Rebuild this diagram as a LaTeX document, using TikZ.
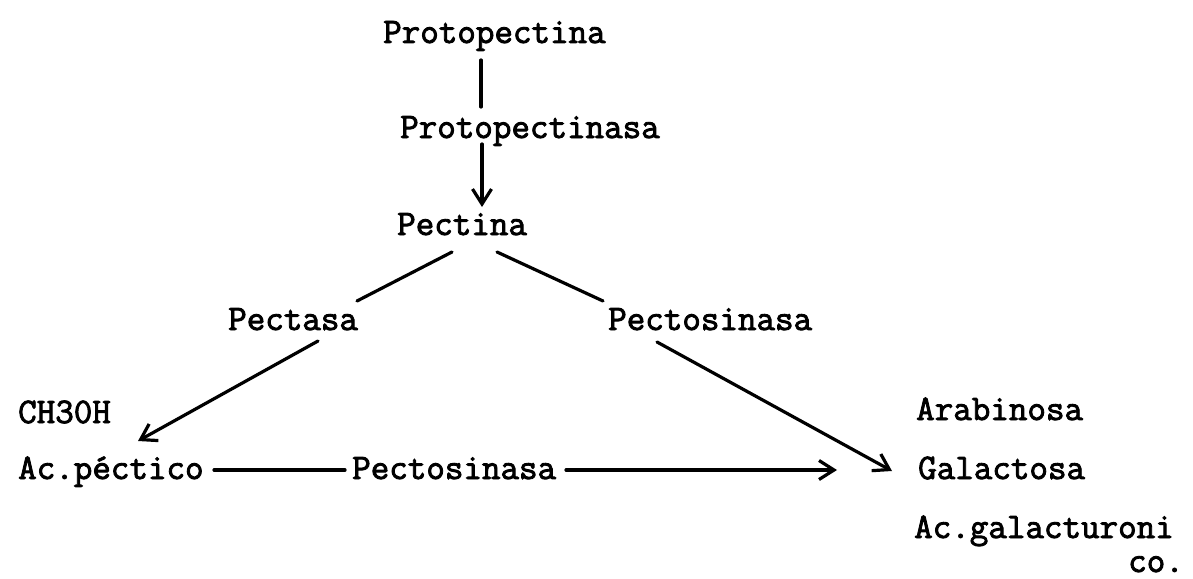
\documentclass[tikz,border=0pt]{standalone}
\usepackage{fontspec}
\setmonofont{Latin Modern Mono}[AutoFakeBold=2.4]
\usetikzlibrary{arrows.meta}
\begin{document}
\begin{tikzpicture}[x=1pt,y=-1pt,
  lbl/.style={inner sep=0pt,anchor=base west,font=\fontsize{36}{40}\selectfont\ttfamily\bfseries},
  ln/.style={line width=3.2pt,line cap=round},
  arr/.style={ln,-{Straight Barb[length=15pt,width=19pt,line width=3.2pt]}}]
\useasboundingbox (0,0) rectangle (1193,578);
\node[lbl] (pp) at (383,43) {Protopectina};
\node[lbl] (ppa) at (400,138) {Protopectinasa};
\node[lbl] (pe) at (397,235) {Pectina};
\node[lbl] (pa) at (228,330) {Pectasa};
\node[lbl] (ps1) at (608,330) {Pectosinasa};
\node[lbl] (ch) at (18,423) {CH30H};
\node[lbl] (ap) at (18,479) {Ac.péctico};
\node[lbl] (ps2) at (352,479) {Pectosinasa};
\node[lbl] (ar) at (916,420) {Arabinosa};
\node[lbl] (ga) at (918,479) {Galactosa};
\node[lbl] (ag) at (914,538) {Ac.galacturoni};
\node[lbl] (co) at (1128,572) {co.};
% connectors
\coordinate (a1) at (481,60); \coordinate (a2) at (481,107);
\draw[ln] (a1) -- (a2);
\coordinate (b1) at (482,144); \coordinate (b2) at (482,207);
\draw[arr] (b1) -- (b2);
\coordinate (c1) at (452,252); \coordinate (c2) at (357,301);
\draw[ln] (c1) -- (c2);
\coordinate (d1) at (497,252); \coordinate (d2) at (603,301);
\draw[ln] (d1) -- (d2);
\coordinate (e1) at (318,341); \coordinate (e2) at (138,441);
\draw[arr] (e1) -- (e2);
\coordinate (f1) at (657,342); \coordinate (f2) at (892,471);
\draw[arr] (f1) -- (f2);
\coordinate (g1) at (214,470); \coordinate (g2) at (345,470);
\draw[ln] (g1) -- (g2);
\coordinate (h1) at (566,470); \coordinate (h2) at (837,470);
\draw[arr] (h1) -- (h2);
\end{tikzpicture}
\end{document}
